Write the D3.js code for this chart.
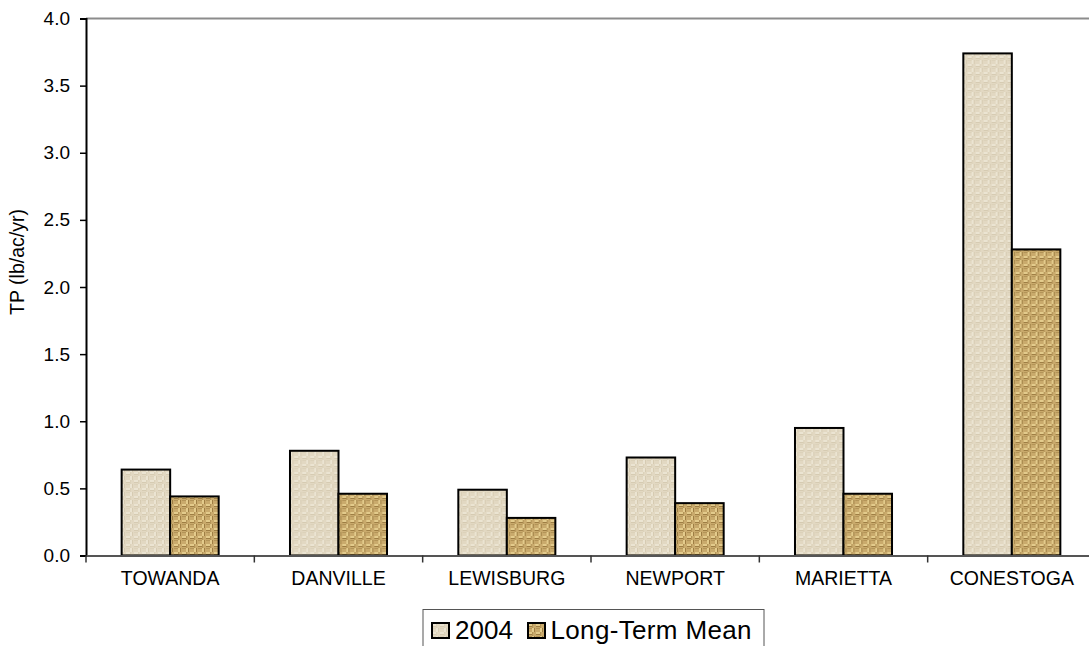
<!DOCTYPE html>
<html>
<head>
<meta charset="utf-8">
<script src="https://cdn.jsdelivr.net/npm/d3@7"></script>
<style>
  html, body { margin: 0; padding: 0; background: #fff; }
  svg { display: block; font-family: "Liberation Sans", Arial, sans-serif; }
</style>
</head>
<body>
<svg id="chart" width="1089" height="646"></svg>
<script>
// Total phosphorus yield by station
const categories = ["TOWANDA", "DANVILLE", "LEWISBURG", "NEWPORT", "MARIETTA", "CONESTOGA"];
const seriesNames = ["2004", "Long-Term Mean"];
const values2004 = [0.64, 0.78, 0.49, 0.73, 0.95, 3.74];
const valuesLongTerm = [0.44, 0.46, 0.28, 0.39, 0.46, 2.28];
const yTicks = [0.0, 0.5, 1.0, 1.5, 2.0, 2.5, 3.0, 3.5, 4.0];

const svg = d3.select("#chart");
const margin = { left: 86, top: 18.5, right: 1096, bottom: 555.5 };

// Woven textures for the two fills
const defs = svg.append("defs");
function weave(id, base, light, dark, size) {
  const p = defs.append("pattern").attr("id", id)
    .attr("patternUnits", "userSpaceOnUse").attr("width", size).attr("height", size);
  p.append("rect").attr("width", size).attr("height", size).attr("fill", base);
  const h = size / 2;
  p.append("rect").attr("x", 0).attr("y", 0).attr("width", h).attr("height", h / 2).attr("fill", light);
  p.append("rect").attr("x", 0).attr("y", h / 2).attr("width", h).attr("height", h / 4).attr("fill", dark);
  p.append("rect").attr("x", h).attr("y", h).attr("width", h / 2).attr("height", h).attr("fill", light);
  p.append("rect").attr("x", h + h / 2).attr("y", h).attr("width", h / 4).attr("height", h).attr("fill", dark);
  p.append("rect").attr("x", h).attr("y", 0).attr("width", 1).attr("height", h).attr("fill", dark).attr("opacity", 0.5);
  p.append("rect").attr("x", 0).attr("y", h).attr("width", h).attr("height", 1).attr("fill", dark).attr("opacity", 0.5);
}
weave("fill2004", "#e2d8c2", "#ebe4d2", "#d6cbb2", 8);
weave("fillLTM", "#c9aa6c", "#e3cb8c", "#9e7e44", 8);
const fills = { "2004": "url(#fill2004)", "Long-Term Mean": "url(#fillLTM)" };

const x0 = d3.scaleBand().domain(categories).range([margin.left, margin.right]).padding(0);
const x1 = d3.scaleBand().domain(seriesNames).range([0, x0.bandwidth()]).paddingInner(0).paddingOuter(0.735);
const y = d3.scaleLinear().domain([0, 4]).range([margin.bottom, margin.top]);

// top frame line
svg.append("line")
  .attr("x1", margin.left).attr("x2", margin.right)
  .attr("y1", margin.top).attr("y2", margin.top)
  .attr("stroke", "#8c8c8c").attr("stroke-width", 2);

// bars
const rows = categories.map((c, i) => ({
  cat: c,
  vals: [{ s: "2004", v: values2004[i] }, { s: "Long-Term Mean", v: valuesLongTerm[i] }]
}));
const groups = svg.append("g").selectAll("g").data(rows).join("g")
  .attr("transform", d => `translate(${x0(d.cat)},0)`);
groups.selectAll("rect").data(d => d.vals).join("rect")
  .attr("x", d => x1(d.s))
  .attr("y", d => y(d.v))
  .attr("width", x1.bandwidth())
  .attr("height", d => y(0) - y(d.v))
  .attr("fill", d => fills[d.s])
  .attr("stroke", "#000").attr("stroke-width", 2);

// y axis
const yAxis = svg.append("g").attr("transform", `translate(${margin.left},0)`)
  .call(d3.axisLeft(y).tickValues(yTicks).tickFormat(d3.format(".1f")).tickSize(6).tickPadding(10));
yAxis.select(".domain").attr("stroke", "#000").attr("stroke-width", 2);
yAxis.selectAll(".tick line").attr("stroke", "#000").attr("stroke-width", 1.5);
yAxis.selectAll("text").attr("font-size", 19).attr("fill", "#000")
  .attr("font-family", "Liberation Sans, Arial, sans-serif");

// x axis
const xAxis = svg.append("g").attr("transform", `translate(0,${margin.bottom})`)
  .call(d3.axisBottom(x0).tickSize(0).tickPadding(16));
xAxis.select(".domain").attr("stroke", "#555").attr("stroke-width", 2);
xAxis.selectAll("text").attr("font-size", 19.5).attr("fill", "#000")
  .attr("font-family", "Liberation Sans, Arial, sans-serif");
// category separators
const bounds = categories.map(c => x0(c)).concat([margin.right]);
svg.append("g").selectAll("line").data(bounds).join("line")
  .attr("x1", d => d).attr("x2", d => d)
  .attr("y1", margin.bottom).attr("y2", margin.bottom + 7)
  .attr("stroke", "#333").attr("stroke-width", 1.5);

// y axis title
svg.append("text")
  .attr("transform", `translate(24,262) rotate(-90)`)
  .attr("text-anchor", "middle")
  .attr("font-size", 19.5).attr("fill", "#000")
  .text("TP (lb/ac/yr)");

// legend
const legend = svg.append("g");
legend.append("rect")
  .attr("x", 423).attr("y", 609.5).attr("width", 341).attr("height", 45)
  .attr("fill", "#fff").attr("stroke", "#555").attr("stroke-width", 1);
const legendItems = [
  { s: seriesNames[0], sx: 432, tx: 455, len: null },
  { s: seriesNames[1], sx: 528, tx: 550.5, len: 201 }
];
legendItems.forEach(it => {
  legend.append("rect")
    .attr("x", it.sx).attr("y", 623).attr("width", 17).attr("height", 15)
    .attr("fill", fills[it.s]).attr("stroke", "#000").attr("stroke-width", 2);
  const t = legend.append("text")
    .attr("x", it.tx).attr("y", 639)
    .attr("font-size", 26).attr("fill", "#000")
    .text(it.s);
  if (it.len) t.attr("textLength", it.len).attr("lengthAdjust", "spacing");
});
</script>
</body>
</html>
